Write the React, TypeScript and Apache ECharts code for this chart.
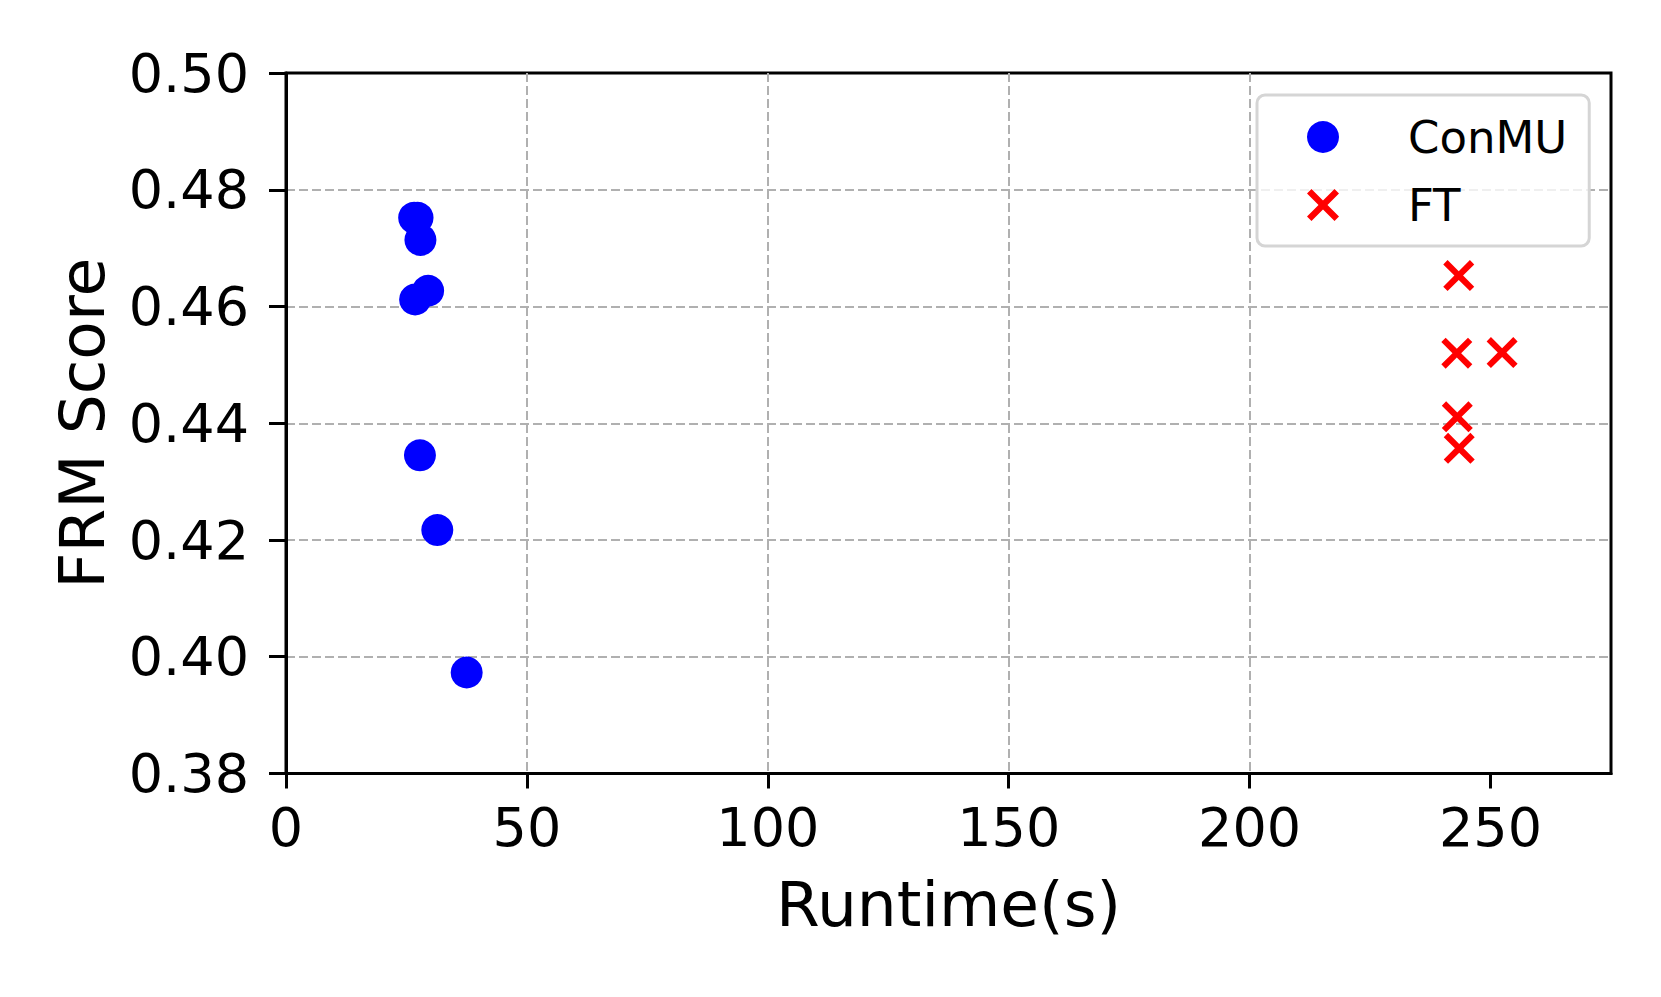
import React, { useEffect, useRef } from "react";
import * as echarts from "echarts";

const conmuX = [26.6, 27.3, 27.9, 29.5, 26.8, 27.8, 31.4, 37.5];
const conmuY = [0.4752, 0.4752, 0.4714, 0.4627, 0.4612, 0.4345, 0.4217, 0.3973];
const ftX = [243.4, 243.0, 252.4, 243.1, 243.5];
const ftY = [0.4653, 0.452, 0.4521, 0.4411, 0.4357];
const xTicks = [0, 50, 100, 150, 200, 250];
const yTicks = [0.38, 0.4, 0.42, 0.44, 0.46, 0.48, 0.5];

const FONT = "'DejaVu Sans', sans-serif";
const X_PATH =
  "path://M0,14 L14,0 L50,36 L86,0 L100,14 L64,50 L100,86 L86,100 L50,64 L14,100 L0,86 L36,50 Z";

export default function App() {
  const ref = useRef<HTMLDivElement>(null);
  useEffect(() => {
    if (!ref.current) return;
    const chart = echarts.init(ref.current, null, { renderer: "svg" });
    const gridLine = {
      show: true,
      showMinLine: false,
      showMaxLine: false,
      lineStyle: { color: "#b0b0b0", width: 2, type: [9, 4] as any },
    };
    chart.setOption({
      animation: false,
      backgroundColor: "#ffffff",
      textStyle: { fontFamily: FONT },
      grid: {
        left: 286,
        right: 50,
        top: 73,
        bottom: 223.5,
        show: true,
        borderColor: "#000",
        borderWidth: 3,
        backgroundColor: "transparent",
      },
      legend: {
        orient: "vertical",
        left: 1257,
        top: 95,
        padding: [17, 22, 16, 50],
        itemWidth: 32,
        itemHeight: 32,
        itemGap: 18,
        borderColor: "#d5d5d5",
        borderWidth: 3,
        borderRadius: 8,
        backgroundColor: "rgba(255,255,255,0.8)",
        textStyle: {
          fontFamily: FONT,
          fontSize: 45,
          lineHeight: 45,
          color: "#000",
          padding: [0, 0, 5, 64],
        },
        data: [
          { name: "ConMU", icon: "circle" },
          { name: "FT", icon: X_PATH },
        ],
      },
      xAxis: {
        type: "value",
        min: 0,
        max: 275,
        interval: 50,
        name: "Runtime(s)",
        nameLocation: "middle",
        nameGap: 99,
        nameTextStyle: { fontFamily: FONT, fontSize: 63, color: "#000" },
        axisLine: { show: true, onZero: false, lineStyle: { color: "#000", width: 3 } },
        axisTick: {
          show: true,
          inside: false,
          length: 15,
          lineStyle: { color: "#000", width: 3 },
          customValues: xTicks,
        },
        axisLabel: {
          fontFamily: FONT,
          fontSize: 54,
          color: "#000",
          margin: 27,
          customValues: xTicks,
        },
        splitLine: gridLine,
      },
      yAxis: {
        type: "value",
        min: 0.38,
        max: 0.5,
        interval: 0.02,
        name: "FRM Score",
        nameLocation: "middle",
        nameGap: 172,
        nameTextStyle: { fontFamily: FONT, fontSize: 63, color: "#000" },
        axisLine: { show: true, onZero: false, lineStyle: { color: "#000", width: 3 } },
        axisTick: {
          show: true,
          inside: false,
          length: 17,
          lineStyle: { color: "#000", width: 3 },
        },
        axisLabel: {
          fontFamily: FONT,
          fontSize: 54,
          color: "#000",
          margin: 37,
          formatter: (v: number) => {
            const t = yTicks.find((y) => Math.abs(y - v) < 1e-6);
            return (t !== undefined ? t : v).toFixed(2);
          },
        },
        splitLine: gridLine,
      },
      series: [
        {
          name: "ConMU",
          type: "scatter",
          symbol: "circle",
          symbolSize: 32,
          itemStyle: { color: "#0000ff", opacity: 1 },
          data: conmuX.map((x, i) => [x, conmuY[i]]),
          z: 3,
        },
        {
          name: "FT",
          type: "scatter",
          symbol: X_PATH,
          symbolSize: 31,
          itemStyle: { color: "#ff0000", opacity: 1 },
          data: ftX.map((x, i) => [x, ftY[i]]),
          z: 3,
        },
      ],
    });
    return () => chart.dispose();
  }, []);
  return (
    <div
      ref={ref}
      style={{ position: "absolute", left: 0, top: 0, width: 1661, height: 997 }}
    />
  );
}
